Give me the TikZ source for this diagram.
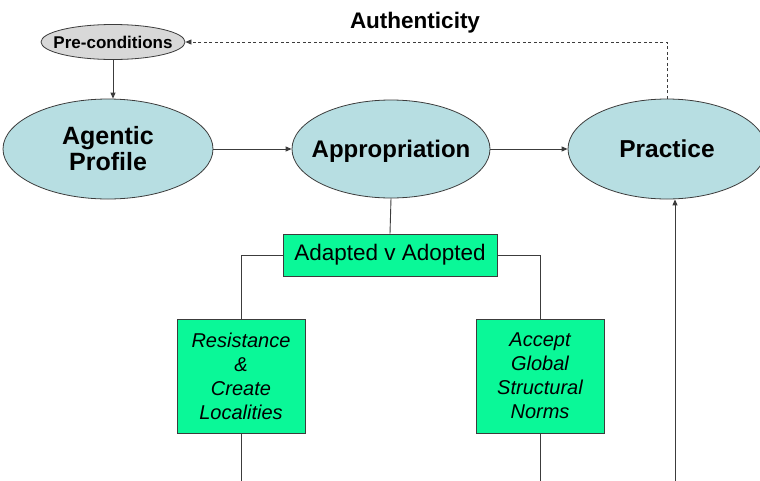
\documentclass[tikz,border=0pt]{standalone}
\usepackage{fontspec}
\setmainfont{Liberation Sans}
\usetikzlibrary{shapes.geometric,arrows.meta}
\definecolor{ellfill}{RGB}{183,222,226}
\definecolor{prefill}{RGB}{216,216,216}
\definecolor{boxfill}{RGB}{10,248,152}
\definecolor{linec}{RGB}{60,60,60}
\tikzset{
  ell/.style={ellipse, draw=linec, line width=0.8pt, fill=ellfill, inner sep=0pt, align=center},
  gbox/.style={rectangle, draw=linec, line width=0.8pt, fill=boxfill, inner sep=0pt, align=center},
  conn/.style={draw=linec, line width=0.9pt},
  arr/.style={conn, -{Triangle[length=6pt,width=5pt]}},
  dasharr/.style={draw=linec, line width=0.8pt, dash pattern=on 3pt off 2.5pt, -{Triangle[length=6pt,width=5pt]}},
}
\newcommand{\capcentre}[2]{\raisebox{-#1}[0pt][0pt]{\makebox[0pt]{#2}}}
\begin{document}
\begin{tikzpicture}[x=1pt,y=-1pt]
\useasboundingbox (0,0) rectangle (760,480);
\clip (0,0) rectangle (760,480);
\fill[white] (0,0) rectangle (760,480);

\node[ell, fill=prefill, minimum width=144pt, minimum height=35pt, font=\bfseries\fontsize{17}{19}\selectfont] (pre) at (113,42) {\makebox[0pt]{Pre-conditions}};
\node[ell, minimum width=210pt, minimum height=100pt, font=\bfseries\fontsize{25}{26}\selectfont] (agentic) at (108,149) {\makebox[0pt]{Agentic}\\\makebox[0pt]{Profile}};
\node[ell, minimum width=198pt, minimum height=98pt, font=\bfseries\fontsize{24}{26}\selectfont] (approp) at (391,149) {\capcentre{8.8pt}{Appropriation}};
\node[ell, minimum width=198pt, minimum height=100pt, font=\bfseries\fontsize{24.5}{26}\selectfont] (practice) at (667,149) {\capcentre{8.8pt}{Practice}};

\node[font=\bfseries\fontsize{22.5}{24}\selectfont] (auth) at (415,23) {Authenticity};

\node[gbox, minimum width=214pt, minimum height=42pt, font=\fontsize{22.5}{24}\selectfont] (adapt) at (390,255) {Adapted v Adopted};
\node[gbox, minimum width=128pt, minimum height=114pt, font=\itshape\fontsize{20}{24}\selectfont] (resist) at (241,376) {Resistance\\\&\\Create\\Localities};
\node[gbox, minimum width=128pt, minimum height=114pt, font=\itshape\fontsize{20}{24}\selectfont] (accept) at (540,376) {Accept\\Global\\Structural\\Norms};

\coordinate (rb) at (241,481);
\coordinate (ab) at (540,481);
\coordinate (pb) at (675,481);

\draw[arr] (pre.south) -- (pre.south |- agentic.north);
\draw[arr] (agentic.east) -- (approp.west);
\draw[arr] (approp.east) -- (practice.west);
\draw[dasharr] (practice.north) |- (pre.east);
\draw[conn] (approp.south) -- (adapt.north);
\draw[conn] (adapt.west) -| (resist.north);
\draw[conn] (adapt.east) -| (accept.north);
\draw[conn] (resist.south) -- (rb);
\draw[conn] (accept.south) -- (ab);
\draw[arr] (pb) -- (pb |- practice.south);
\end{tikzpicture}
\end{document}
